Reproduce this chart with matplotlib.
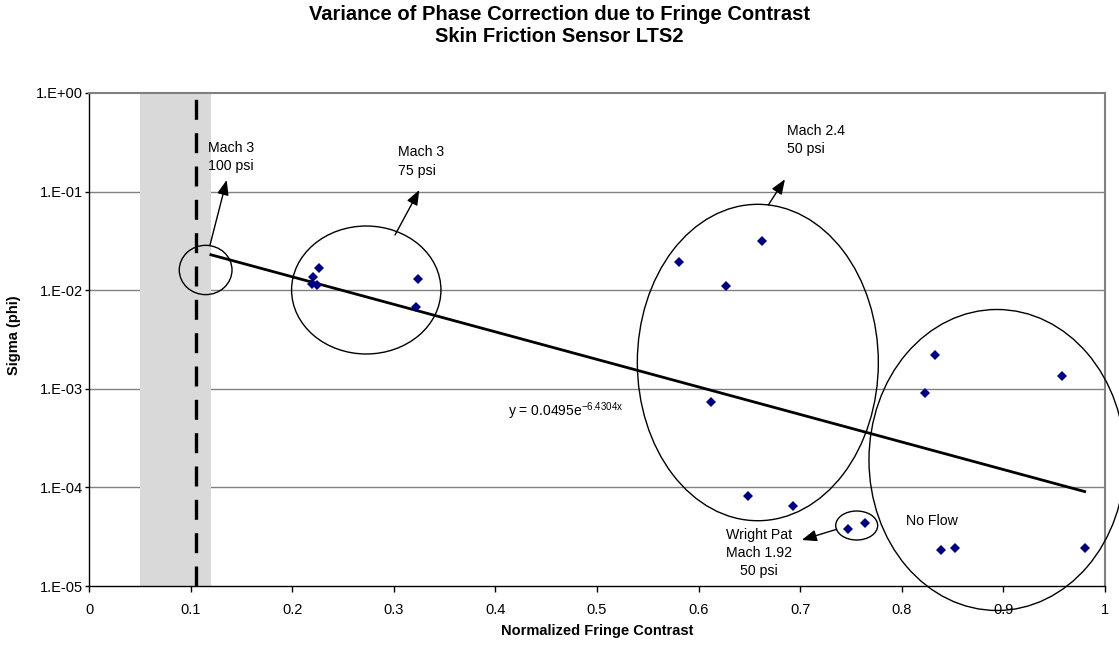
import matplotlib
matplotlib.use("Agg")
import matplotlib.pyplot as plt
import numpy as np
from matplotlib.patches import Ellipse

plt.rcParams['font.family'] = ['Liberation Sans', 'DejaVu Sans']

# Measured phase-correction variance vs. normalized fringe contrast
contrast = [0.2267, 0.2200, 0.2195, 0.2240, 0.3235, 0.3218,
            0.6627, 0.5807, 0.6266, 0.6125, 0.6486, 0.6926,
            0.7474, 0.7641,
            0.8330, 0.8230, 0.9574, 0.8386, 0.8520, 0.9800]
sigma = [1.675e-2, 1.358e-2, 1.145e-2, 1.127e-2, 1.286e-2, 6.79e-3,
         3.17e-2, 1.94e-2, 1.11e-2, 7.3e-4, 8.2e-5, 6.5e-5,
         3.8e-5, 4.34e-5,
         2.22e-3, 9.06e-4, 1.34e-3, 2.34e-5, 2.45e-5, 2.45e-5]

# Exponential fit  y = a * exp(b x)
fit_a = 0.0495
fit_b = -6.4304
fit_range = (0.12, 0.98)

# Low-contrast limit band and threshold
band = (0.05, 0.12)
threshold = 0.105

x_ticks = [0, 0.1, 0.2, 0.3, 0.4, 0.5, 0.6, 0.7, 0.8, 0.9, 1]
x_tick_labels = ["0", "0.1", "0.2", "0.3", "0.4", "0.5", "0.6", "0.7", "0.8", "0.9", "1"]
y_ticks = [1e0, 1e-1, 1e-2, 1e-3, 1e-4, 1e-5]
y_tick_labels = ["1.E+00", "1.E-01", "1.E-02", "1.E-03", "1.E-04", "1.E-05"]

fig = plt.figure(figsize=(11.19, 6.46), dpi=100)
ax = fig.add_axes([89 / 1119, 1 - 586 / 646, 1016 / 1119, 493 / 646])

ax.set_yscale('log')
ax.set_xlim(0, 1)
ax.set_ylim(1e-5, 1e0)

# grey band with dashed threshold line
ax.axvspan(band[0], band[1], color='#d9d9d9', lw=0, zorder=1)
ax.plot([threshold, threshold], [1e-5, 0.9], color='black', lw=2.4,
        dashes=(6, 4), zorder=3)

# gridlines
for yv in y_ticks[1:-1]:
    ax.axhline(yv, color='#808080', lw=1.0, zorder=0.5)

ax.set_xticks(x_ticks)
ax.set_xticklabels(x_tick_labels)
ax.set_yticks(y_ticks)
ax.set_yticklabels(y_tick_labels)
ax.minorticks_off()
ax.tick_params(axis='both', labelsize=10.5, width=1, direction='out',
               color='black')
ax.tick_params(axis='x', length=4.5, pad=8)
ax.tick_params(axis='y', length=3, pad=1.5)

for side in ('top', 'right'):
    ax.spines[side].set_color('#808080')
    ax.spines[side].set_linewidth(1.5)
for side in ('left', 'bottom'):
    ax.spines[side].set_color('black')
    ax.spines[side].set_linewidth(1.0)

# trend line
xf = np.linspace(fit_range[0], fit_range[1], 200)
ax.plot(xf, fit_a * np.exp(fit_b * xf), color='black', lw=2.0, zorder=4)

# data points
ax.plot(contrast, sigma, linestyle='none', marker='D', markersize=5.5,
        color='#000080', markeredgewidth=0, zorder=5)

# grouping ellipses (axes-fraction coordinates)
ellipses = [
    ((0.1148, 0.641), 0.0519, 0.100),
    ((0.2729, 0.6004), 0.147, 0.2596),
    ((0.6583, 0.4533), 0.2372, 0.6418),
    ((0.7556, 0.1227), 0.0413, 0.0588),
    ((0.8937, 0.2556), 0.252, 0.6105),
]
for (c, w, h) in ellipses:
    ax.add_patch(Ellipse(c, w, h, transform=ax.transAxes, fill=False,
                         edgecolor='black', lw=1.0, zorder=6, clip_on=False))

# arrows
arrows = [
    ((0.1191, 0.6917), (0.1355, 0.8235)),
    ((0.3012, 0.712), (0.3251, 0.8032)),
    ((0.6686, 0.7728), (0.685, 0.825)),
    ((0.7359, 0.115), (0.7015, 0.0933)),
]
for start, end in arrows:
    ax.annotate('', xy=end, xytext=start, xycoords='axes fraction',
                textcoords='axes fraction',
                arrowprops=dict(arrowstyle='-|>,head_length=0.9,head_width=0.35',
                                color='black', lw=1.0, shrinkA=0, shrinkB=0),
                zorder=7)

txt = dict(fontsize=10.2, color='black', transform=ax.transAxes,
           linespacing=1.4, zorder=8)
ax.text(0.1171, 0.870, "Mach 3\n100 psi", ha='left', va='center', **txt)
ax.text(0.3045, 0.861, "Mach 3\n75 psi", ha='left', va='center', **txt)
ax.text(0.6867, 0.905, "Mach 2.4\n50 psi", ha='left', va='center', **txt)
ax.text(0.6594, 0.0670, "Wright Pat\nMach 1.92\n50 psi", ha='center',
        va='center', **txt)
ax.text(0.8294, 0.1318, "No Flow", ha='center', va='center', **txt)
ax.text(0.4125, 0.355, r"y = 0.0495e$^{\mathregular{-6.4304x}}$", ha='left',
        va='center', fontsize=10, transform=ax.transAxes, zorder=8)

ax.set_xlabel("Normalized Fringe Contrast", fontsize=10.5, fontweight='bold',
              labelpad=5)
ax.set_ylabel("Sigma (phi)", fontsize=10.5, fontweight='bold', va='center')
ax.yaxis.set_label_coords(-75 / 1016, (586 - 335) / 493)

fig.text(0.5, 1 - 15 / 646, "Variance of Phase Correction due to Fringe Contrast",
         ha='center', va='center', fontsize=14.5, fontweight='bold')
fig.text(0.5, 1 - 37 / 646, "Skin Friction Sensor LTS2",
         ha='center', va='center', fontsize=14.5, fontweight='bold')

fig.savefig("out.png", dpi=100)
